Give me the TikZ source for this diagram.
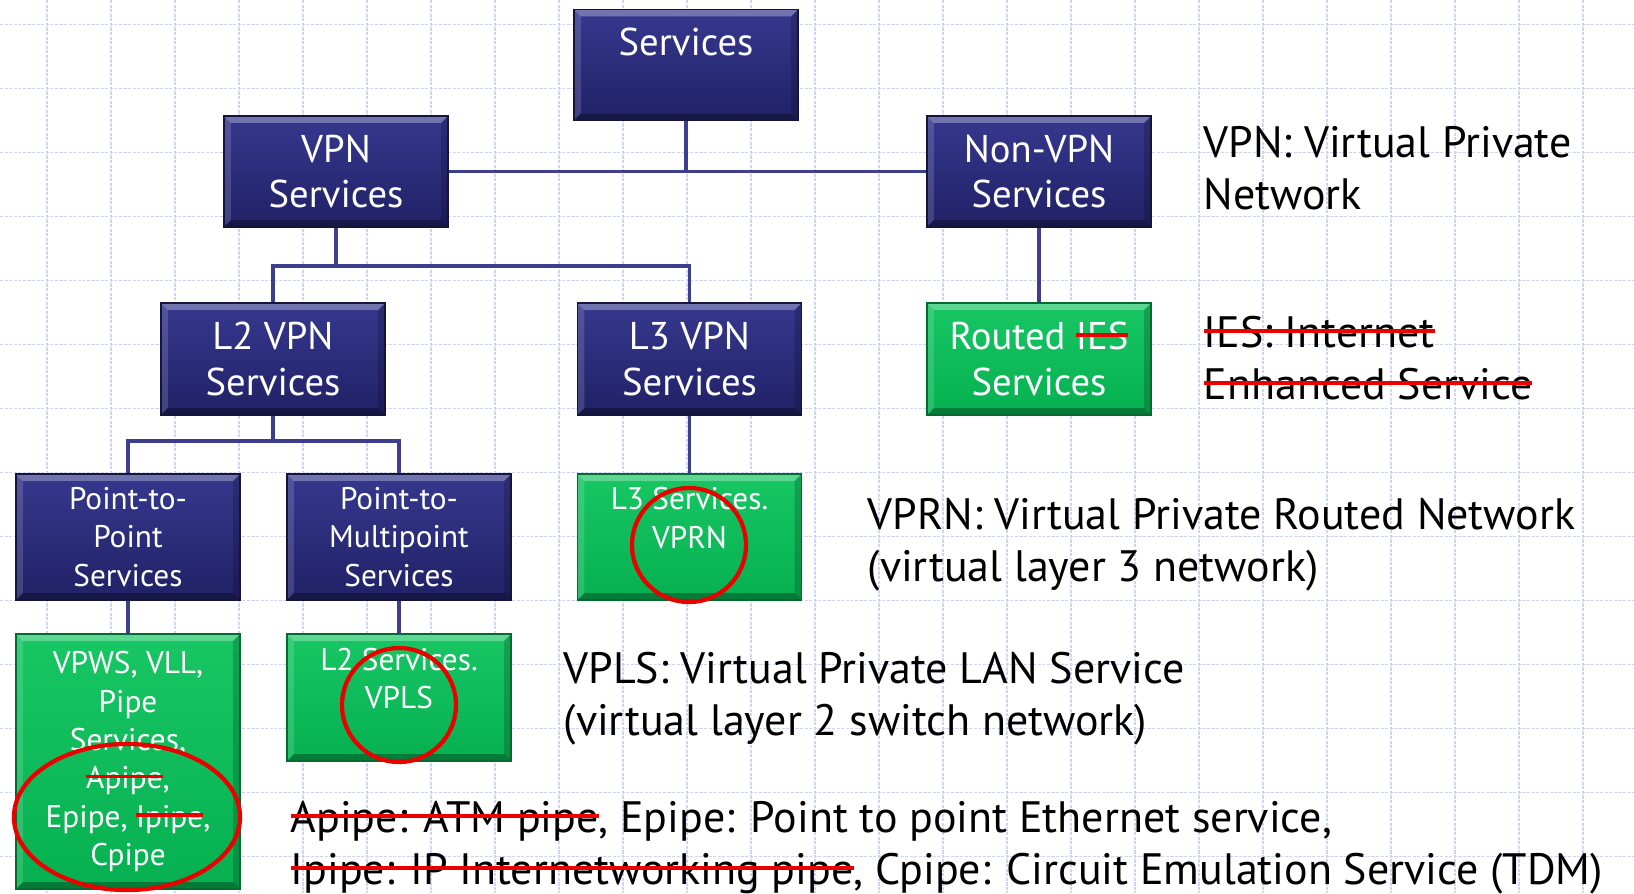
\documentclass[tikz,border=0pt]{standalone}
\usepackage{fontspec}
\setmainfont{PT Sans}
\usepackage{tikz}
\usetikzlibrary{positioning}
\usetikzlibrary{calc}

\definecolor{navytop}{RGB}{54,56,142}
\definecolor{navybot}{RGB}{33,33,102}
\definecolor{greentop}{RGB}{24,198,100}
\definecolor{greenbot}{RGB}{6,176,80}
\definecolor{linkblue}{RGB}{62,62,142}
\definecolor{gridblue}{RGB}{204,214,246}
\definecolor{markred}{RGB}{235,0,0}

\newcommand{\strike}[1]{\setbox0\hbox{#1}\usebox0\llap{\textcolor{markred}{\rule[0.33em]{\wd0}{1.1pt}}}}

\tikzset{bevel/.style = {path picture={
                           \path (path picture bounding box.north west) coordinate (nw)
                                 (path picture bounding box.north east) coordinate (ne)
                                 (path picture bounding box.south west) coordinate (sw)
                                 (path picture bounding box.south east) coordinate (se);
                           \fill [white, opacity=.30] (nw) -- (ne) -- ([shift={(-7,7)}]ne) -- ([shift={(7,7)}]nw) -- cycle;
                           \fill [white, opacity=.15] (nw) -- (sw) -- ([shift={(7,-7)}]sw) -- ([shift={(7,7)}]nw) -- cycle;
                           \fill [black, opacity=.30] (sw) -- (se) -- ([shift={(-7,-7)}]se) -- ([shift={(7,-7)}]sw) -- cycle;
                           \fill [black, opacity=.18] (ne) -- (se) -- ([shift={(-7,-7)}]se) -- ([shift={(-7,7)}]ne) -- cycle;}},
         navybox/.style = {bevel, draw=navybot!60!black, line width=0.4pt,
                           top color=navytop, bottom color=navybot,
                           text=white, align=center, inner sep=0pt, minimum width=2.24cm},
         greenbox/.style = {navybox, draw=greenbot!60!black,
                            top color=greentop, bottom color=greenbot},
         bigtext/.style = {font=\fontsize{11}{13}\selectfont},
         smalltext/.style = {font=\fontsize{8.9}{10.9}\selectfont},
         link/.style = {draw=linkblue, line width=1.1pt},
         ring/.style = {draw=markred, line width=1.2pt},
         note/.style = {anchor=west, align=left, inner sep=0pt,
                        font=\fontsize{12.5}{14.8}\selectfont},
         gridline/.style = {draw=gridblue, line width=0.5pt, dash pattern=on 0.9pt off 0.4pt}}

\begin{document}
\begin{tikzpicture}[x=0.01cm, y=-0.01cm]
  \useasboundingbox (0,0) rectangle (1634,893);
  \foreach \x in {47,111,...,1634} \draw [gridline] (\x,0) -- (\x,893);
  \foreach \y in {24.5,88.5,...,893} \draw [gridline] (0,\y) -- (1634,\y);

  % boxes
  \node [navybox, bigtext, minimum height=1.11cm] (svc) at (686,65) {Services\\\mbox{}};
  \node [navybox, bigtext, minimum height=1.11cm] (vpn) at (336,171.5) {VPN\\Services};
  \node [navybox, bigtext, minimum height=1.11cm] (nonvpn) at (1039,171.5) {Non-VPN\\Services};
  \node [navybox, bigtext, minimum height=1.12cm] (l2) at (273,359) {L2 VPN\\Services};
  \node [navybox, bigtext, minimum height=1.12cm] (l3) at (689.5,359) {L3 VPN\\Services};
  \node [greenbox, bigtext, minimum height=1.12cm] (ies) at (1039,359) {Routed \strike{IES}\\Services};
  \node [navybox, smalltext, minimum height=1.26cm] (p2p) at (128,537) {Point-to-\\Point\\Services};
  \node [navybox, smalltext, minimum height=1.26cm] (p2mp) at (399,537) {Point-to-\\Multipoint\\Services};
  \node [greenbox, smalltext, minimum height=1.26cm] (vprn) at (689.5,537) {L3 Services.\\VPRN\\\mbox{}};
  \node [greenbox, smalltext, minimum height=2.55cm] (vpws) at (128,761.5)
        {VPWS, VLL,\\Pipe\\Services,\\\strike{Apipe},\\Epipe, \strike{Ipipe},\\Cpipe};
  \node [greenbox, smalltext, minimum height=1.27cm] (vpls) at (399,697.5) {L2 Services.\\VPLS\\\mbox{}};

  % tree lines
  \coordinate (bus1) at (0,266);
  \coordinate (bus2) at (0,441);
  \draw [link] (vpn.east) -- (nonvpn.west);
  \draw [link] (svc.south) -- (svc.south |- vpn.east);
  \draw [link] (vpn.south) -- (vpn.south |- bus1);
  \draw [link] (l2.north) -- (l2.north |- bus1) -- (l3.north |- bus1) -- (l3.north);
  \draw [link] (nonvpn.south) -- (ies.north);
  \draw [link] (l2.south) -- (l2.south |- bus2);
  \draw [link] (p2p.north) -- (p2p.north |- bus2) -- (p2mp.north |- bus2) -- (p2mp.north);
  \draw [link] (l3.south) -- (vprn.north);
  \draw [link] (p2p.south) -- (vpws.north);
  \draw [link] (p2mp.south) -- (vpls.north);

  % notes
  \node [note] (vpnnote) at (1203,168) {VPN: Virtual Private\\Network};
  \node [note] (iesnote) at (1203,358) {\strike{IES: Internet}\\\strike{Enhanced Service}};
  \node [note] (vprnnote) at (867,545) {VPRN: Virtual Private Routed Network\\(virtual layer 3 network)};
  \node [note] (vplsnote) at (563,699) {VPLS: Virtual Private LAN Service\\(virtual layer 2 switch network)};
  \node [note] (pipenote) at (290,847.5) {\strike{Apipe: ATM pipe}, Epipe: Point to point Ethernet service,\\
                                          \strike{Ipipe: IP Internetworking pipe}, Cpipe: Circuit Emulation Service (TDM)};

  % red marks
  \draw [ring] (127,817) ellipse [x radius=1.13cm, y radius=0.73cm];
  \draw [ring] (399,705) circle [radius=0.57cm];
  \draw [ring] (689,545) circle [radius=0.57cm];
\end{tikzpicture}
\end{document}
